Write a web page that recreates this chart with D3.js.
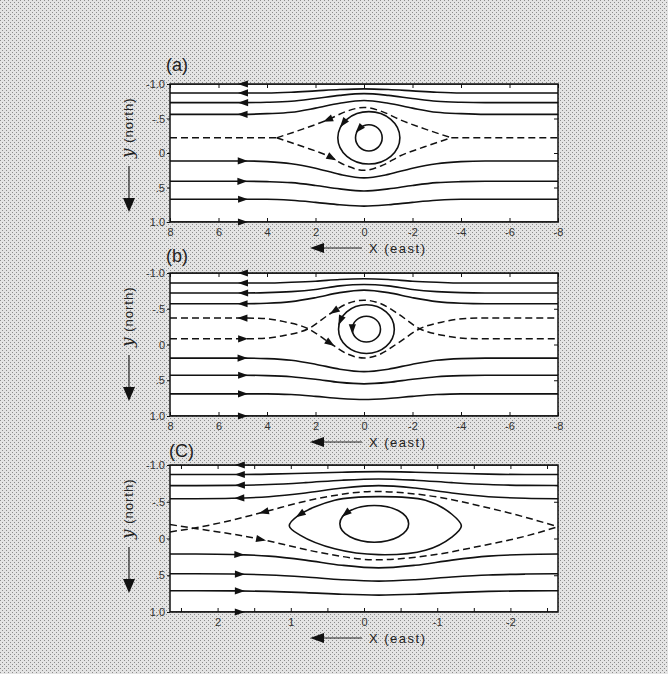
<!DOCTYPE html>
<html lang="en">
<head>
<meta charset="UTF-8">
<title>Streamlines</title>
<script src="https://cdn.jsdelivr.net/npm/d3@7"></script>
<style>
  body { margin: 0; background: #d8d8d8; }
  svg { display: block; }
</style>
</head>
<body>
<div id="chart"></div>
<script>
// ticks and labels
var yTicks = [-1, -0.5, 0, 0.5, 1];
var yTickLabels = ["-1.0", "-.5", "0", ".5", "1.0"];
var xTicksAB = [8, 6, 4, 2, 0, -2, -4, -6, -8];
var xTicksC = [2.5, 2, 1.5, 1, 0.5, 0, -0.5, -1, -1.5, -2, -2.5];
var xLabelsC = [2, 1, 0, -1, -2];

var stationsAB = [8, 5, 4, 3, 2, 1, 0, -1, -2, -3, -4, -5, -8];
var stationsC = [2.65, 2.3, 1.8, 1.3, 0.8, 0.3, -0.2, -0.7, -1.2, -1.7, -2.2, -2.65];

// solid streamlines (y at each station), top to bottom
var solidA = [
  [-0.87, -0.87, -0.87, -0.88, -0.90, -0.92, -0.93, -0.92, -0.90, -0.88, -0.87, -0.87, -0.87],
  [-0.73, -0.73, -0.735, -0.75, -0.79, -0.835, -0.86, -0.835, -0.79, -0.75, -0.735, -0.73, -0.73],
  [-0.56, -0.56, -0.57, -0.59, -0.65, -0.72, -0.76, -0.72, -0.65, -0.59, -0.57, -0.56, -0.56],
  [0.115, 0.115, 0.125, 0.155, 0.22, 0.31, 0.36, 0.31, 0.22, 0.155, 0.125, 0.115, 0.115],
  [0.41, 0.41, 0.415, 0.43, 0.47, 0.52, 0.55, 0.52, 0.47, 0.43, 0.415, 0.41, 0.41],
  [0.67, 0.67, 0.67, 0.685, 0.715, 0.75, 0.77, 0.75, 0.715, 0.685, 0.67, 0.67, 0.67]
];
var solidB = [
  [-0.86, -0.86, -0.86, -0.87, -0.885, -0.91, -0.92, -0.91, -0.885, -0.87, -0.86, -0.86, -0.86],
  [-0.72, -0.72, -0.725, -0.74, -0.77, -0.82, -0.84, -0.82, -0.77, -0.74, -0.725, -0.72, -0.72],
  [-0.57, -0.57, -0.577, -0.60, -0.655, -0.725, -0.76, -0.725, -0.655, -0.60, -0.577, -0.57, -0.57],
  [0.19, 0.19, 0.197, 0.22, 0.275, 0.345, 0.38, 0.345, 0.275, 0.22, 0.197, 0.19, 0.19],
  [0.43, 0.43, 0.435, 0.45, 0.485, 0.53, 0.55, 0.53, 0.485, 0.45, 0.435, 0.43, 0.43],
  [0.69, 0.69, 0.69, 0.70, 0.725, 0.755, 0.77, 0.755, 0.725, 0.70, 0.69, 0.69, 0.69]
];
var solidC = [
  [-0.87, -0.87, -0.87, -0.876, -0.888, -0.902, -0.91, -0.902, -0.888, -0.876, -0.87, -0.87],
  [-0.72, -0.72, -0.723, -0.734, -0.76, -0.793, -0.81, -0.793, -0.76, -0.734, -0.723, -0.72],
  [-0.54, -0.541, -0.547, -0.569, -0.619, -0.686, -0.72, -0.686, -0.619, -0.569, -0.547, -0.541],
  [0.21, 0.211, 0.217, 0.24, 0.294, 0.364, 0.40, 0.364, 0.294, 0.24, 0.217, 0.211],
  [0.48, 0.48, 0.484, 0.496, 0.524, 0.561, 0.58, 0.561, 0.524, 0.496, 0.484, 0.48],
  [0.71, 0.71, 0.712, 0.72, 0.736, 0.759, 0.77, 0.759, 0.736, 0.72, 0.712, 0.71]
];
// flow direction on screen for each solid line (-1 left, 1 right)
var flowSolid = [-1, -1, -1, 1, 1, 1];
// frame edges y=-1 and y=1 carry arrows too
var frameFlow = [[-1, -1], [1, 1]];

// dashed separatrices, [x, y] points
var dashedA = [
  [[8, -0.22], [3.6, -0.22]],
  [[-3.6, -0.22], [-8, -0.22]],
  [[3.6, -0.22], [2.5, -0.35], [1.5, -0.48], [0.75, -0.6], [0, -0.66], [-0.75, -0.6], [-1.5, -0.48], [-2.5, -0.35], [-3.6, -0.22]],
  [[3.6, -0.22], [2.5, -0.09], [1.5, 0.04], [0.75, 0.18], [0, 0.25], [-0.75, 0.18], [-1.5, 0.04], [-2.5, -0.09], [-3.6, -0.22]]
];
var dashedB = [
  [[8, -0.37], [5, -0.37], [4.2, -0.365], [3.3, -0.32], [2.3, -0.22], [1.4, -0.02], [0.7, 0.13], [0, 0.19],
   [-0.7, 0.13], [-1.4, -0.02], [-2.3, -0.22], [-3.3, -0.32], [-4.2, -0.365], [-5, -0.37], [-8, -0.37]],
  [[8, -0.08], [5, -0.08], [4.2, -0.085], [3.3, -0.125], [2.3, -0.22], [1.4, -0.43], [0.7, -0.57], [0, -0.62],
   [-0.7, -0.57], [-1.4, -0.43], [-2.3, -0.22], [-3.3, -0.125], [-4.2, -0.085], [-5, -0.08], [-8, -0.08]]
];
var dashedFlowB = [-1, 1];
var dashedC = [
  [[2.65, -0.09], [2.33, -0.14], [1.8, -0.25], [1.37, -0.36], [0.6, -0.55], [-0.15, -0.64], [-0.9, -0.58], [-1.6, -0.44], [-2.2, -0.29], [-2.65, -0.16]],
  [[2.65, -0.19], [2.33, -0.14], [1.8, -0.06], [1.37, 0.02], [0.6, 0.19], [-0.15, 0.29], [-0.9, 0.23], [-1.6, 0.1], [-2.2, -0.03], [-2.65, -0.16]]
];

// closed vortex streamlines: [cx, cy, rx, ry]
var vortexA = [[-0.2, -0.22, 0.55, 0.19], [-0.2, -0.22, 1.28, 0.38]];
var vortexB = [[-0.1, -0.215, 0.58, 0.18], [-0.1, -0.215, 1.15, 0.34]];
var vortexC = [[-0.14, -0.2, 0.47, 0.25]];
var eyeC = [[1.02, -0.17], [0.9, -0.31], [0.4, -0.52], [-0.2, -0.57], [-0.84, -0.52], [-1.2, -0.33],
            [-1.33, -0.17], [-1.2, -0.02], [-0.84, 0.16], [-0.2, 0.22], [0.4, 0.14], [0.88, -0.05]];

// arrows round the vortex: [x, y, hintX, hintY]
var loopArrowsA = [[1.5, -0.48, -1, 1], [1.3, 0.05, 1, 1], [0.86, -0.43, -0.3, 1], [0.16, -0.33, -1, 1]];
var loopArrowsB = [[1.4, -0.02, 1, 1], [1.2, -0.45, -1, 1], [1.0, -0.34, -0.3, 1], [0.48, -0.215, 0, 1]];
var loopArrowsC = [[1.37, -0.36, -1, 0.5], [1.4, 0.01, 1, 0.5], [0.88, -0.33, -1, 1], [0.26, -0.35, -1, 1]];

var panels = [
  {label: "(a)", labelX: 166, labelY: 71, top: 84, bottom: 222, xDomain: [8, -8], xTicks: xTicksAB, xLabels: xTicksAB,
   stations: stationsAB, solid: solidA, dashed: dashedA, dashedFlow: [], vortex: vortexA, eye: null, loops: loopArrowsA, arrowX: 5},
  {label: "(b)", labelX: 166, labelY: 262, top: 273, bottom: 416, xDomain: [8, -8], xTicks: xTicksAB, xLabels: xTicksAB,
   stations: stationsAB, solid: solidB, dashed: dashedB, dashedFlow: dashedFlowB, vortex: vortexB, eye: null, loops: loopArrowsB, arrowX: 5},
  {label: "(C)", labelX: 169, labelY: 457, top: 465, bottom: 612, xDomain: [2.65, -2.65], xTicks: xTicksC, xLabels: xLabelsC,
   stations: stationsC, solid: solidC, dashed: dashedC, dashedFlow: [], vortex: vortexC, eye: eyeC, loops: loopArrowsC, arrowX: 1.7}
];

var W = 668, H = 674, left = 170, right = 558;
var sans = "'Liberation Sans', Arial, sans-serif";

var svg = d3.select("#chart").append("svg").attr("width", W).attr("height", H);
var defs = svg.append("defs");
var pat = defs.append("pattern").attr("id", "grain").attr("width", 4).attr("height", 4)
    .attr("patternUnits", "userSpaceOnUse");
pat.append("rect").attr("width", 4).attr("height", 4).attr("fill", "#e4e4e4");
pat.append("rect").attr("x", 0).attr("y", 0).attr("width", 1).attr("height", 1).attr("fill", "#8c8c8c");
pat.append("rect").attr("x", 2).attr("y", 2).attr("width", 1).attr("height", 1).attr("fill", "#8c8c8c");
svg.append("rect").attr("width", W).attr("height", H).attr("fill", "url(#grain)");

function styleAxis(sel) {
    sel.select(".domain").remove();
    sel.attr("font-size", 11).attr("font-family", sans);
    sel.selectAll("line").attr("stroke", "#111").attr("stroke-width", 1);
    sel.selectAll("text").attr("fill", "#333");
}

// put an arrowhead on the nearest drawn curve point, oriented along the curve
function addArrow(g, els, tx, ty, hx, hy) {
    var best = Infinity, bestPt = null, bestDir = null;
    els.forEach(function (el) {
        var L = el.getTotalLength(), n = 500, pts = [];
        for (var i = 0; i <= n; i++) pts.push(el.getPointAtLength(L * i / n));
        pts.forEach(function (q, i) {
            var d = (q.x - tx) * (q.x - tx) + (q.y - ty) * (q.y - ty);
            if (d < best) {
                best = d;
                bestPt = q;
                var a = pts[Math.max(i - 3, 0)], b = pts[Math.min(i + 3, n)];
                bestDir = [b.x - a.x, b.y - a.y];
            }
        });
    });
    var dx = bestDir[0], dy = bestDir[1];
    if (dx * hx + dy * hy < 0) { dx = -dx; dy = -dy; }
    var ang = Math.atan2(dy, dx) * 180 / Math.PI;
    g.append("path")
        .attr("d", "M5,0L-5,-3.6L-5,3.6Z")
        .attr("transform", "translate(" + bestPt.x + "," + bestPt.y + ") rotate(" + ang + ")")
        .attr("fill", "#111");
}

panels.forEach(function (p, pi) {
    var x = d3.scaleLinear().domain(p.xDomain).range([left, right]);
    var y = d3.scaleLinear().domain([-1, 1]).range([p.top, p.bottom]);
    var g = svg.append("g");

    defs.append("clipPath").attr("id", "clip" + pi)
        .append("rect").attr("x", left).attr("y", p.top).attr("width", right - left).attr("height", p.bottom - p.top);

    g.append("rect").attr("x", left).attr("y", p.top).attr("width", right - left).attr("height", p.bottom - p.top)
        .attr("fill", "#fff");

    var plot = g.append("g").attr("clip-path", "url(#clip" + pi + ")");
    var line = d3.line().x(function (d) { return x(d[0]); }).y(function (d) { return y(d[1]); })
        .curve(d3.curveMonotoneX);
    var els = [];

    var frames = frameFlow.map(function (f) {
        return plot.append("path").attr("d", line([[p.xDomain[0], f[0]], [p.xDomain[1], f[0]]]))
            .attr("fill", "none").attr("stroke", "#111").attr("stroke-width", 1.6).node();
    });
    els = els.concat(frames);

    p.solid.forEach(function (vals) {
        var pts = p.stations.map(function (s, j) { return [s, vals[j]]; });
        els.push(plot.append("path").attr("d", line(pts)).attr("fill", "none")
            .attr("stroke", "#111").attr("stroke-width", 1.6).node());
    });

    p.dashed.forEach(function (pts) {
        els.push(plot.append("path").attr("d", line(pts)).attr("fill", "none")
            .attr("stroke", "#111").attr("stroke-width", 1.5).attr("stroke-dasharray", "7,4").node());
    });

    p.vortex.forEach(function (v) {
        els.push(plot.append("ellipse")
            .attr("cx", x(v[0])).attr("cy", y(v[1]))
            .attr("rx", Math.abs(x(v[2]) - x(0))).attr("ry", Math.abs(y(v[3]) - y(0)))
            .attr("fill", "none").attr("stroke", "#111").attr("stroke-width", 1.6).node());
    });

    if (p.eye) {
        var closed = d3.line().x(function (d) { return x(d[0]); }).y(function (d) { return y(d[1]); })
            .curve(d3.curveCatmullRomClosed.alpha(0.5));
        els.push(plot.append("path").attr("d", closed(p.eye)).attr("fill", "none")
            .attr("stroke", "#111").attr("stroke-width", 1.6).node());
    }

    // arrows
    frameFlow.forEach(function (f) { addArrow(g, els, x(p.arrowX), y(f[0]), f[1], 0); });
    p.solid.forEach(function (vals, i) { addArrow(g, els, x(p.arrowX), y(vals[0]), flowSolid[i], 0); });
    p.dashedFlow.forEach(function (dir, i) { addArrow(g, els, x(p.arrowX), y(p.dashed[i][0][1]), dir, 0); });
    p.loops.forEach(function (a) { addArrow(g, els, x(a[0]), y(a[1]), a[2], a[3]); });

    // frame
    g.append("rect").attr("x", left).attr("y", p.top).attr("width", right - left).attr("height", p.bottom - p.top)
        .attr("fill", "none").attr("stroke", "#111").attr("stroke-width", 1.5);

    // axes
    g.append("g").attr("transform", "translate(0," + p.bottom + ")")
        .call(d3.axisBottom(x).tickValues(p.xTicks).tickSize(-4).tickPadding(6)
            .tickFormat(function (d) { return p.xLabels.indexOf(d) >= 0 ? String(d) : ""; }))
        .call(styleAxis);
    g.append("g").attr("transform", "translate(0," + p.top + ")")
        .call(d3.axisTop(x).tickValues(p.xTicks).tickSize(-4).tickFormat(""))
        .call(styleAxis);
    g.append("g").attr("transform", "translate(" + left + ",0)")
        .call(d3.axisLeft(y).tickValues(yTicks).tickSize(3).tickPadding(2)
            .tickFormat(function (d, i) { return yTickLabels[i]; }))
        .call(styleAxis);
    g.append("g").attr("transform", "translate(" + right + ",0)")
        .call(d3.axisRight(y).tickValues([-0.5, 0, 0.5]).tickSize(-4).tickFormat(""))
        .call(styleAxis);

    // panel letter
    g.append("text").attr("x", p.labelX).attr("y", p.labelY).attr("font-family", sans)
        .attr("font-size", 18).attr("fill", "#222").text(p.label);

    // y label with downward arrow
    var yl = g.append("text")
        .attr("transform", "translate(133," + (p.top + 74) + ") rotate(-90)")
        .attr("font-family", sans).attr("font-size", 13).attr("letter-spacing", 1).attr("fill", "#222");
    yl.append("tspan").attr("font-family", "'DejaVu Serif', serif").attr("font-style", "italic")
        .attr("font-size", 17).text("y");
    yl.append("tspan").text(" (north)");
    g.append("line").attr("x1", 129).attr("x2", 129).attr("y1", p.top + 82).attr("y2", p.top + 116)
        .attr("stroke", "#222").attr("stroke-width", 1.2);
    g.append("path").attr("d", "M123," + (p.top + 114) + "L135," + (p.top + 114) + "L129," + (p.top + 128) + "Z")
        .attr("fill", "#111");

    // x label with leftward arrow
    var xy = p.bottom + 26;
    g.append("line").attr("x1", 322).attr("x2", 362).attr("y1", xy).attr("y2", xy)
        .attr("stroke", "#222").attr("stroke-width", 1.2);
    g.append("path").attr("d", "M310," + xy + "L324," + (xy - 5) + "L324," + (xy + 5) + "Z").attr("fill", "#111");
    g.append("text").attr("x", 369).attr("y", xy + 5).attr("font-family", sans).attr("font-size", 13)
        .attr("letter-spacing", 1.5).attr("fill", "#222").text("X (east)");
});
</script>
</body>
</html>
